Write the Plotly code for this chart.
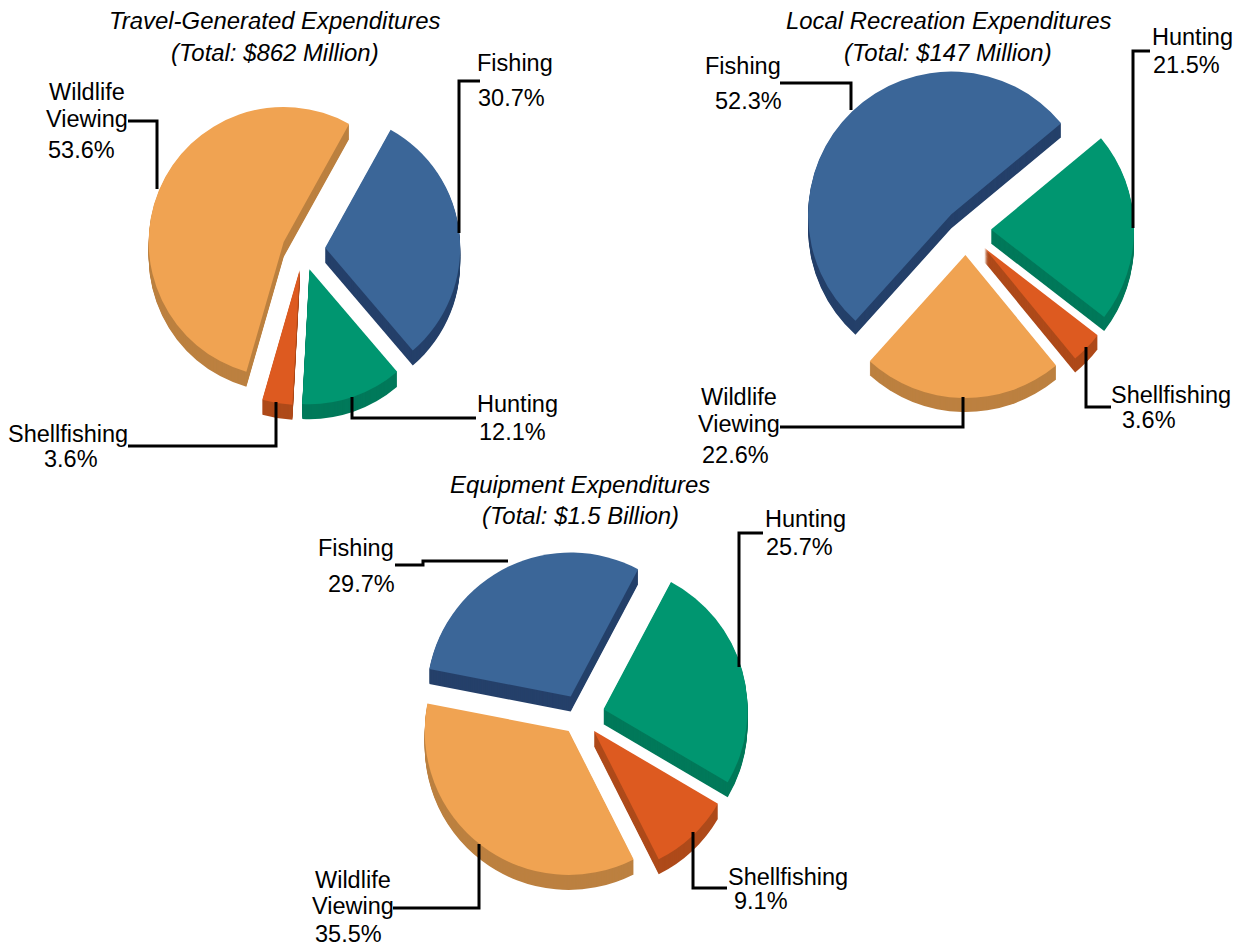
import plotly.graph_objects as go

W, H = 1234, 939
categories = ["Fishing", "Hunting", "Shellfishing", "Wildlife Viewing"]
travel_values = [30.7, 12.1, 3.6, 53.6]
local_values = [52.3, 21.5, 3.6, 22.6]
equipment_values = [29.7, 25.7, 9.1, 35.5]

top_colors = ["#3B6698", "#009670", "#DD5A20", "#F0A352"]
side_colors = ["#25406A", "#00795A", "#AE4A1A", "#BC8040"]

pies = [
    dict(values=travel_values, cx=303, cy=250, r=135, rot=29, pull=[.165, .15, .15, .155], depth=15),
    dict(values=local_values, cx=966, cy=230, r=143, rot=222, pull=[.15, .175, .18, .175], depth=14),
    dict(values=equipment_values, cx=580, cy=716, r=144, rot=281, pull=[.15, .17, .14, .13], depth=15),
]

titles = [
    ("Travel-Generated Expenditures", 275, 21), ("(Total: $862 Million)", 275, 52),
    ("Local Recreation Expenditures", 948, 21), ("(Total: $147 Million)", 948, 52),
    ("Equipment Expenditures", 580, 484), ("(Total: $1.5 Billion)", 580, 515),
]

texts = [
    ("Fishing", 515, 63), ("30.7%", 511, 98),
    ("Wildlife", 87, 92), ("Viewing", 87, 119), ("53.6%", 81, 150),
    ("Hunting", 517, 404), ("12.1%", 512, 432),
    ("Shellfishing", 68, 434), ("3.6%", 71, 459),
    ("Fishing", 743, 66), ("52.3%", 748, 101),
    ("Hunting", 1192, 37), ("21.5%", 1186, 65),
    ("Wildlife", 739, 397), ("Viewing", 739, 424), ("22.6%", 735, 455),
    ("Shellfishing", 1171, 395), ("3.6%", 1149, 420),
    ("Fishing", 356, 548), ("29.7%", 361, 584),
    ("Hunting", 805, 519), ("25.7%", 799, 547),
    ("Wildlife", 353, 880), ("Viewing", 353, 906), ("35.5%", 348, 934),
    ("Shellfishing", 788, 877), ("9.1%", 761, 901),
]

leaders = [
    [(480, 81), (459, 81), (459, 233)], [(128, 121), (157, 121), (157, 189)],
    [(476, 418), (352, 418), (352, 397)], [(128, 446), (276, 446), (276, 402)],
    [(780, 83), (851, 83), (851, 110)], [(1150, 51), (1133, 51), (1133, 228)],
    [(780, 427), (963, 427), (963, 397)], [(1111, 407), (1086, 407), (1086, 347)],
    [(395, 565), (423, 565), (423, 561), (508, 561)], [(763, 533), (739, 533), (739, 667)],
    [(393, 908), (479, 908), (479, 844)], [(727, 888), (693, 888), (693, 832)],
]

X0, Y0 = 8, 8  # the page's body margin


def px(x):
    return (x - X0) / W


def py(y):
    return 1 - (y - Y0) / H


fig = go.Figure()
for p in pies:
    half = p["r"] * (1 + max(p["pull"]))
    for off in list(range(p["depth"], 0, -1)) + [0]:
        fig.add_trace(go.Pie(
            labels=categories, values=p["values"], sort=False, direction="clockwise",
            rotation=p["rot"], pull=p["pull"], textinfo="none", hoverinfo="skip",
            showlegend=False,
            marker=dict(colors=top_colors if off == 0 else side_colors, line=dict(width=0)),
            domain=dict(x=[px(p["cx"] - half), px(p["cx"] + half)],
                        y=[py(p["cy"] + off + half), py(p["cy"] + off - half)]),
        ))

shapes = [dict(type="path", xref="paper", yref="paper",
               path="M " + " L ".join(f"{px(x):.5f},{py(y):.5f}" for x, y in pts),
               line=dict(color="black", width=3))
          for pts in leaders]


def note(t, x, y, size):
    return dict(text=t, x=px(x), y=py(y), xref="paper", yref="paper", showarrow=False,
                xanchor="center", yanchor="middle",
                font=dict(family="Liberation Sans", size=size, color="black"))


annotations = [note(f"<i>{t}</i>", x, y, 23.9) for t, x, y in titles]
annotations += [note(t, x, y, 23.5) for t, x, y in texts]

fig.update_layout(width=W, height=H, margin=dict(l=0, r=0, t=0, b=0), paper_bgcolor="white",
                  shapes=shapes, annotations=annotations)
fig.write_html("out.html")
